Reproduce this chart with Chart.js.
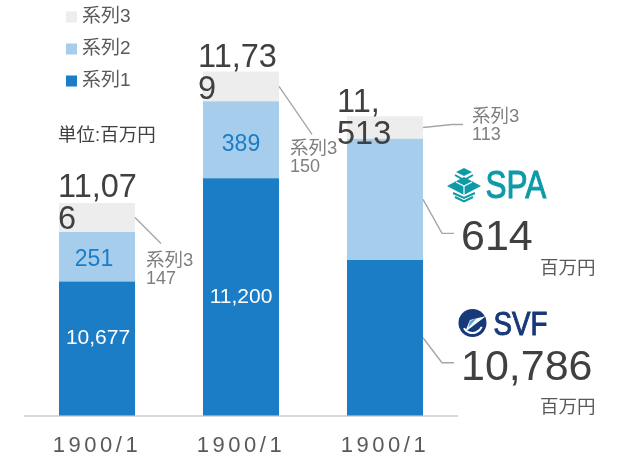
<!DOCTYPE html>
<html>
<head>
<meta charset="utf-8">
<style>html,body{margin:0;padding:0;background:#fff}canvas{display:block}</style>
<script src="https://cdn.jsdelivr.net/npm/chart.js@4/dist/chart.umd.min.js"></script>
</head>
<body>
<canvas id="c" width="618" height="453"></canvas>
<script>
const categories = ['1900/1', '1900/1', '1900/1'];
const series1 = [10677, 11200, 10786];
const series2 = [251, 389, 614];
const series3 = [147, 150, 113];
const series1Labels = ['10,677', '11,200', null];
const series2Labels = ['251', '389', null];
const totalLabels = [['11,07', '6'], ['11,73', '9'], ['11,', '513']];
const seriesNames = ['系列1', '系列2', '系列3'];
const unitText = '単位:百万円';
const millionText = '百万円';
const spaValue = '614';
const svfValue = '10,786';

const FONT = '"Liberation Sans","Noto Sans CJK JP",sans-serif';
const f = s => s + 'px ' + FONT;
const DARK = '#404040', GREY = '#7F7F7F', MID = '#595959', LINE = '#A6A6A6';

function text(ctx, t, x, y, size, color, align) {
  ctx.font = f(size); ctx.fillStyle = color;
  ctx.textAlign = align || 'left'; ctx.textBaseline = 'alphabetic';
  ctx.fillText(t, x, y);
}
function poly(ctx, pts) {
  ctx.beginPath();
  pts.forEach((p, i) => i ? ctx.lineTo(p[0], p[1]) : ctx.moveTo(p[0], p[1]));
  ctx.stroke();
}

function spaLogo(ctx) {
  const c = '#0E9AA7';
  ctx.save();
  ctx.fillStyle = c; ctx.strokeStyle = c;
  const dia = (cx, cy, w, h) => {
    ctx.beginPath(); ctx.moveTo(cx, cy - h); ctx.lineTo(cx + w, cy); ctx.lineTo(cx, cy + h); ctx.lineTo(cx - w, cy); ctx.closePath(); ctx.fill();
  };
  dia(464, 172, 8, 4);
  ctx.lineWidth = 2;
  poly(ctx, [[455, 175], [464, 180], [473, 175]]);
  dia(464, 186, 17, 9);
  ctx.strokeStyle = '#fff'; ctx.lineWidth = 1.2;
  poly(ctx, [[456, 182], [464, 186], [472, 182]]);
  poly(ctx, [[464, 186], [464, 195]]);
  ctx.strokeStyle = c; ctx.lineWidth = 2;
  poly(ctx, [[453, 193], [464, 198], [475, 193]]);
  poly(ctx, [[455, 197], [464, 201.5], [473, 197]]);
  ctx.translate(485.5, 198); ctx.scale(0.83, 1);
  text(ctx, 'SPA', 0, 0, 38, c);
  ctx.lineWidth = 1; ctx.strokeStyle = c; ctx.font = f(38); ctx.strokeText('SPA', 0, 0);
  ctx.restore();
}
function svfLogo(ctx) {
  const c = '#17397A';
  ctx.save();
  ctx.fillStyle = c; ctx.strokeStyle = c;
  ctx.beginPath(); ctx.arc(472.5, 323, 14, 0, Math.PI * 2); ctx.fill();
  ctx.strokeStyle = '#fff'; ctx.lineWidth = 2;
  ctx.beginPath(); ctx.arc(472.5, 323, 10, 0.4, 2.6); ctx.stroke();
  ctx.fillStyle = '#fff';
  ctx.beginPath(); ctx.moveTo(486, 316); ctx.lineTo(470, 320); ctx.lineTo(465, 332); ctx.lineTo(473, 326); ctx.closePath(); ctx.fill();
  ctx.fillStyle = '#5AA6DC';
  ctx.beginPath(); ctx.moveTo(477, 318); ctx.lineTo(470, 321); ctx.lineTo(468, 328); ctx.closePath(); ctx.fill();
  ctx.fillStyle = c;
  ctx.translate(493.5, 335); ctx.scale(0.84, 1);
  text(ctx, 'SVF', 0, 0, 33, c);
  ctx.lineWidth = 1; ctx.strokeStyle = c; ctx.font = f(33); ctx.strokeText('SVF', 0, 0);
  ctx.restore();
}

const annotate = {
  id: 'annotate',
  afterLayout(chart) {
    // legend sits upper-left, clear of the bars
    const lg = chart.legend;
    lg.left = 57.5; lg.right = 200; lg.top = -5.5;
    const sx = chart.scales.x;
    if (!sx._spaced) {
      sx._spaced = true;
      const orig = sx.drawLabels;
      sx.drawLabels = function (a) {
        const ctx = this.ctx; ctx.save(); ctx.letterSpacing = '3.5px';
        orig.call(this, a); ctx.restore();
      };
    }
  },
  afterDatasetsDraw(chart) {
    const ctx = chart.ctx, y = chart.scales.y;
    const m1 = chart.getDatasetMeta(0).data, m2 = chart.getDatasetMeta(1).data, m3 = chart.getDatasetMeta(2).data;
    ctx.save();
    // segment labels
    const dy1 = [-5, 6], dy2 = [9, 11], dx1 = [1, 0];
    [0, 1].forEach(i => {
      const mid1 = (y.getPixelForValue(series1[i]) + y.bottom) / 2;
      text(ctx, series1Labels[i], m1[i].x + dx1[i], mid1 + dy1[i], 21, '#FFFFFF', 'center');
      const top2 = series1[i] + series2[i];
      const mid2 = (y.getPixelForValue(series1[i]) + y.getPixelForValue(top2)) / 2;
      text(ctx, series2Labels[i], m2[i].x - (i ? 0 : 3), mid2 + dy2[i], 23, '#1A7DC6', 'center');
    });
    // wrapped totals
    const tx = [-39, -43, -48], tb = [-6, -5, -4];
    totalLabels.forEach((lines, i) => {
      const top = y.getPixelForValue(series1[i] + series2[i] + series3[i]);
      lines.forEach((l, j) => text(ctx, l, m3[i].x + tx[i], top + tb[i] + j * 32, 32.5, DARK));
    });
    // leader lines
    ctx.strokeStyle = LINE; ctx.lineWidth = 1.4;
    const right = m => m.x + m.width / 2;
    const midS3 = i => (y.getPixelForValue(series1[i] + series2[i]) + y.getPixelForValue(series1[i] + series2[i] + series3[i])) / 2;
    poly(ctx, [[right(m3[0]), midS3(0)], [right(m3[0]) + 26, midS3(0) + 26]]);
    poly(ctx, [[right(m3[1]), midS3(1)], [right(m3[1]) + 33, midS3(1) + 48]]);
    poly(ctx, [[right(m3[2]), midS3(2)], [right(m3[2]) + 29, midS3(2) - 3], [right(m3[2]) + 40, midS3(2) - 3]]);
    const s2Mid = y.getPixelForValue(series1[2] + series2[2] / 2);
    poly(ctx, [[right(m2[2]), s2Mid], [right(m2[2]) + 19, s2Mid + 34], [right(m2[2]) + 31, s2Mid + 34]]);
    const s1Mid = (y.getPixelForValue(series1[2]) + y.bottom) / 2;
    poly(ctx, [[right(m1[2]), s1Mid], [right(m1[2]) + 19, s1Mid + 25], [right(m1[2]) + 31, s1Mid + 25]]);
    // callout labels
    const cx = [146, 290, 472], cy = [266, 154, 122];
    [0, 1, 2].forEach(i => {
      text(ctx, seriesNames[2], cx[i], cy[i], 18.5, GREY);
      text(ctx, String(series3[i]), cx[i], cy[i] + 18, 18, GREY);
    });
    // logos, values, units
    spaLogo(ctx); svfLogo(ctx);
    text(ctx, spaValue, 461, 250, 43, DARK);
    text(ctx, svfValue, 461, 380, 43, DARK);
    text(ctx, millionText, 540, 274, 18.5, MID);
    text(ctx, millionText, 540, 413, 18.5, MID);
    text(ctx, unitText, 58, 141, 18.5, DARK);
    ctx.restore();
  }
};

new Chart(document.getElementById('c'), {
  type: 'bar',
  data: {
    labels: categories,
    datasets: [
      { label: seriesNames[0], data: series1, backgroundColor: '#1A7DC6' },
      { label: seriesNames[1], data: series2, backgroundColor: '#A6CEEC' },
      { label: seriesNames[2], data: series3, backgroundColor: '#EDEDED' }
    ]
  },
  options: {
    responsive: false,
    animation: false,
    layout: { padding: { left: 25, right: 161, top: 20, bottom: 0 } },
    datasets: { bar: { barPercentage: 0.528, categoryPercentage: 1, borderWidth: 0 } },
    plugins: {
      tooltip: { enabled: false },
      legend: {
        position: 'chartArea',
        align: 'start',
        reverse: true,
        labels: {
          padding: 13,
          font: { family: FONT, size: 19 },
          color: MID,
          boxWidth: 2,
          boxHeight: 2,
          generateLabels(chart) {
            return chart.data.datasets.map((d, i) => ({
              text: d.label, fillStyle: d.backgroundColor, strokeStyle: d.backgroundColor,
              lineWidth: 9, datasetIndex: i, hidden: false, fontColor: MID
            }));
          }
        }
      }
    },
    scales: {
      x: {
        stacked: true,
        grid: { display: false },
        border: { color: '#D9D9D9', width: 2 },
        afterFit(s) { s.height = 37.5; },
        ticks: { color: MID, font: { family: FONT, size: 22 }, padding: 9, maxRotation: 0, autoSkip: false }
      },
      y: { stacked: true, display: false, min: 10000, max: 12000 }
    }
  },
  plugins: [annotate]
});
</script>
</body>
</html>
